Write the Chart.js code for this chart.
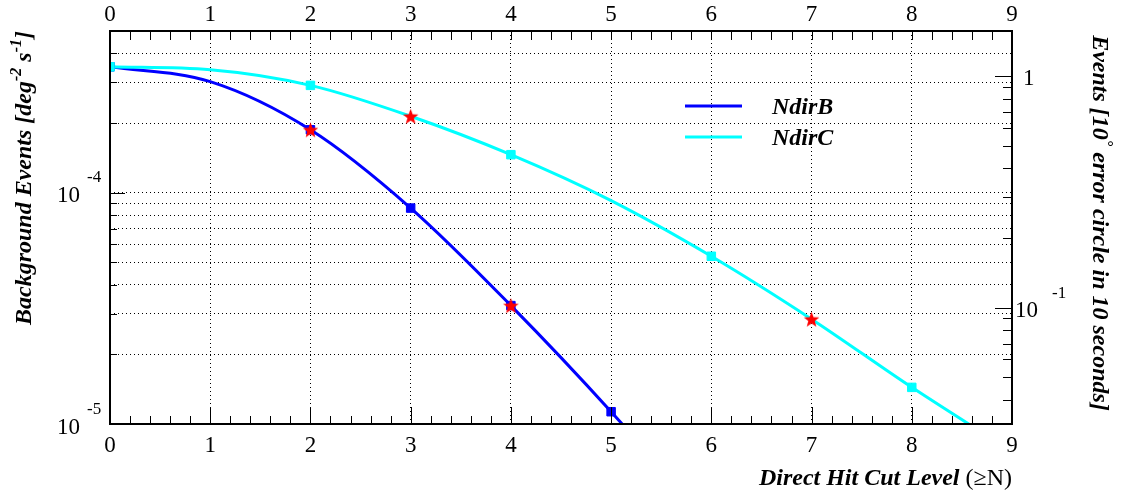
<!DOCTYPE html>
<html>
<head>
<meta charset="utf-8">
<title>Background events vs direct hit cut level</title>
<script src="https://cdn.jsdelivr.net/npm/chart.js@4/dist/chart.umd.min.js"></script>
<style>
  html, body { margin: 0; padding: 0; background: #fff; }
  canvas { display: block; }
</style>
</head>
<body>
<canvas id="chart" width="1126" height="497"></canvas>
<script>
// Direct hit cut level N (x axis)
const cutLevels = [0, 1, 2, 3, 4, 5, 6, 7, 8, 9];
// Background rate [deg^-2 s^-1] for each cut level
const ndirB = [3.5e-4, 3.02e-4, 1.87e-4, 8.58e-5, 3.25e-5, 1.13e-5, 3.6e-6];
const ndirC = [3.5e-4, 3.40e-4, 2.91e-4, 2.14e-4, 1.46e-4, 9.24e-5, 5.31e-5, 2.84e-5, 1.44e-5, 7.6e-6];
// Indices of the measured points (square markers) and highlighted points (stars)
const squaresB = [0, 2, 3, 4, 5];
const squaresC = [0, 2, 4, 6, 8];
const starsB = [2, 4];
const starsC = [3, 7];
// Axis ticks
const xTickLabels = ['0', '1', '2', '3', '4', '5', '6', '7', '8', '9'];
const rateTicks = [1e-5, 2e-5, 3e-5, 4e-5, 5e-5, 6e-5, 7e-5, 8e-5, 9e-5, 1e-4, 2e-4, 3e-4, 4e-4, 5e-4];
const rateMajor = [1e-5, 1e-4];
const rateMajorExp = ['-5', '-4'];
const eventsMinor = [0.04, 0.05, 0.06, 0.07, 0.08, 0.09, 0.2, 0.3, 0.4, 0.5, 0.6, 0.7, 0.8, 0.9];
const RATE_MIN = 1e-5, RATE_MAX = 5e-4;
// Events in a 10 degree circle over 10 seconds: area (pi * 10^2 deg^2) times 10 s
const EVENTS_PER_RATE = Math.PI * 10 * 10 * 10;

const pts = (vals, idx) => idx.map(i => ({ x: cutLevels[i], y: vals[i] }));
const curve = vals => vals.map((v, i) => ({ x: cutLevels[i], y: v }));

// Filled five-pointed star used as a point style
function makeStar(color, outer, inner) {
  const s = Math.ceil(outer * 2 + 2);
  const c = document.createElement('canvas');
  c.width = s; c.height = s;
  const g = c.getContext('2d');
  g.translate(s / 2, s / 2 + 0.8);
  g.beginPath();
  for (let k = 0; k < 10; k++) {
    const r = k % 2 === 0 ? outer : inner;
    const ang = -Math.PI / 2 + k * Math.PI / 5;
    const px = r * Math.cos(ang), py = r * Math.sin(ang);
    if (k === 0) g.moveTo(px, py); else g.lineTo(px, py);
  }
  g.closePath();
  g.fillStyle = color;
  g.fill();
  return c;
}
const starImg = makeStar('#ff0000', 8.2, 3.4);

const SERIF = '"Liberation Serif", "Times New Roman", serif';

function drawRich(ctx, segs, x, y, align) {
  let total = 0;
  segs.forEach(s => { ctx.font = s.font; s.w = ctx.measureText(s.text).width; total += s.w; });
  let cx = align === 'center' ? x - total / 2 : align === 'right' ? x - total : x;
  ctx.textAlign = 'left';
  ctx.textBaseline = 'alphabetic';
  segs.forEach(s => { ctx.font = s.font; ctx.fillText(s.text, cx, y + (s.dy || 0)); cx += s.w; });
}

const decorations = {
  id: 'decorations',
  afterDatasetsDraw(chart) {
    const { ctx, chartArea: a, scales } = chart;
    const sx = scales.x, sy = scales.y, sr = scales.yR;
    ctx.save();
    ctx.strokeStyle = '#000';
    ctx.fillStyle = '#000';

    // inward tick marks
    ctx.lineWidth = 1;
    ctx.beginPath();
    for (let i = 0; i <= 45; i++) {
      const px = Math.round(sx.getPixelForValue(i / 5)) + 0.5;
      const major = i % 5 === 0;
      ctx.moveTo(px, a.bottom); ctx.lineTo(px, a.bottom - (major ? 17 : 8));
      ctx.moveTo(px, a.top); ctx.lineTo(px, a.top + 9);
    }
    rateTicks.forEach(v => {
      const py = Math.round(sy.getPixelForValue(v)) + 0.5;
      const major = rateMajor.includes(v);
      ctx.moveTo(a.left, py); ctx.lineTo(a.left + (major ? 15 : 7), py);
    });
    eventsMinor.concat([0.1, 1]).forEach(v => {
      const py = Math.round(sr.getPixelForValue(v)) + 0.5;
      const major = v === 0.1 || v === 1;
      ctx.moveTo(a.right, py); ctx.lineTo(a.right - (major ? 17 : 9), py);
    });
    ctx.stroke();

    // frame
    ctx.lineWidth = 2;
    ctx.strokeRect(a.left, a.top, a.right - a.left, a.bottom - a.top);

    const R = '23px ' + SERIF;
    const Rs = '17px ' + SERIF;

    // x tick labels, bottom and top
    ctx.font = R;
    ctx.textAlign = 'center';
    ctx.textBaseline = 'alphabetic';
    xTickLabels.forEach((t, i) => {
      const px = sx.getPixelForValue(cutLevels[i]);
      ctx.fillText(t, px, a.bottom + 28);
      ctx.fillText(t, px, a.top - 10);
    });

    // left log labels 10^n
    rateMajor.forEach((v, i) => {
      const py = sy.getPixelForValue(v);
      ctx.font = R;
      ctx.textAlign = 'right';
      ctx.fillText('10', 80, py + 9.5);
      ctx.font = Rs;
      ctx.textAlign = 'left';
      ctx.fillText(rateMajorExp[i], 87, py - 10.5);
    });

    // right axis labels
    ctx.font = R;
    ctx.textAlign = 'left';
    ctx.fillText('1', a.right + 11, sr.getPixelForValue(1) + 8.5);
    ctx.fillText('10', a.right + 3, sr.getPixelForValue(0.1) + 9);
    ctx.font = Rs;
    ctx.fillText('-1', a.right + 40, sr.getPixelForValue(0.1) - 9.5);

    const BI = 'italic bold 24px ' + SERIF;
    const BIs = 'italic bold 16px ' + SERIF;

    // left title
    ctx.save();
    ctx.translate(31, 178);
    ctx.rotate(-Math.PI / 2);
    drawRich(ctx, [
      { text: 'Background Events [deg', font: BI },
      { text: '-2', font: BIs, dy: -10 },
      { text: ' s', font: BI },
      { text: '-1', font: BIs, dy: -10 },
      { text: ']', font: BI }
    ], 0, 0, 'center');
    ctx.restore();

    // right title
    ctx.save();
    ctx.translate(1093, 223);
    ctx.rotate(Math.PI / 2);
    drawRich(ctx, [
      { text: 'Events [10', font: BI },
      { text: '\u00b0', font: BIs, dy: -9 },
      { text: ' error circle in 10 seconds]', font: BI }
    ], 0, 0, 'center');
    ctx.restore();

    // bottom title
    drawRich(ctx, [
      { text: 'Direct Hit Cut Level ', font: BI },
      { text: '(\u2265N)', font: '24px ' + SERIF }
    ], a.right, 485, 'right');

    // legend
    const legend = [
      { label: 'NdirB', color: chart.data.datasets[4].borderColor, y: 106 },
      { label: 'NdirC', color: chart.data.datasets[3].borderColor, y: 137 }
    ];
    legend.forEach(e => {
      ctx.strokeStyle = e.color;
      ctx.lineWidth = 3;
      ctx.beginPath();
      ctx.moveTo(685, e.y); ctx.lineTo(742, e.y);
      ctx.stroke();
      ctx.fillStyle = '#000';
      ctx.font = BI;
      ctx.textAlign = 'left';
      ctx.fillText(e.label, 772, e.y + 7.5);
    });
    ctx.restore();
  }
};

const gridDash = { display: false, dash: [1, 3] };

function build() {
  new Chart(document.getElementById('chart'), {
    type: 'line',
    data: {
      datasets: [
        { label: 'stars', data: pts(ndirB, starsB).concat(pts(ndirC, starsC)), showLine: false,
          pointStyle: starImg, pointRadius: 8, borderColor: '#ff0000', backgroundColor: '#ff0000' },
        { label: 'NdirC points', data: pts(ndirC, squaresC), showLine: false,
          pointStyle: 'rect', pointRadius: 6, borderWidth: 1, borderColor: '#00ffff', backgroundColor: '#00ffff' },
        { label: 'NdirB points', data: pts(ndirB, squaresB), showLine: false,
          pointStyle: 'rect', pointRadius: 6, borderWidth: 1, borderColor: '#0000ff', backgroundColor: '#0000ff' },
        { label: 'NdirC', data: curve(ndirC), borderColor: '#00ffff', borderWidth: 3,
          pointRadius: 0, cubicInterpolationMode: 'monotone', fill: false },
        { label: 'NdirB', data: curve(ndirB), borderColor: '#0000ff', borderWidth: 3,
          pointRadius: 0, cubicInterpolationMode: 'monotone', fill: false }
      ]
    },
    options: {
      responsive: false,
      animation: false,
      events: [],
      layout: { padding: 0 },
      plugins: { legend: { display: false }, tooltip: { enabled: false }, title: { display: false } },
      scales: {
        x: {
          type: 'linear', position: 'bottom', min: 0, max: 9,
          afterBuildTicks: s => { s.ticks = cutLevels.map(v => ({ value: v })); },
          afterFit: s => { s.height = 73; },
          ticks: { display: false },
          grid: { color: '#000', lineWidth: 1, drawTicks: false },
          border: gridDash
        },
        xTop: {
          type: 'linear', position: 'top', min: 0, max: 9,
          afterFit: s => { s.height = 31; },
          ticks: { display: false },
          grid: { display: false, drawTicks: false },
          border: { display: false }
        },
        y: {
          type: 'logarithmic', position: 'left', min: RATE_MIN, max: RATE_MAX,
          afterBuildTicks: s => { s.ticks = rateTicks.map(v => ({ value: v })); },
          afterFit: s => { s.width = 110; },
          ticks: { display: false },
          grid: { color: '#000', lineWidth: 1, drawTicks: false },
          border: gridDash
        },
        yR: {
          type: 'logarithmic', position: 'right',
          min: RATE_MIN * EVENTS_PER_RATE, max: RATE_MAX * EVENTS_PER_RATE,
          afterFit: s => { s.width = 114; },
          ticks: { display: false },
          grid: { display: false, drawTicks: false },
          border: { display: false }
        }
      }
    },
    plugins: [decorations]
  });
}

// Make sure the serif faces are ready before the canvas text is drawn
const faces = ['23px "Liberation Serif"', '17px "Liberation Serif"',
  'italic bold 24px "Liberation Serif"', 'italic bold 16px "Liberation Serif"'];
if (document.fonts && document.fonts.load) {
  Promise.all(faces.map(f => document.fonts.load(f, '0123456789N'))).then(build, build);
} else {
  build();
}
</script>
</body>
</html>
